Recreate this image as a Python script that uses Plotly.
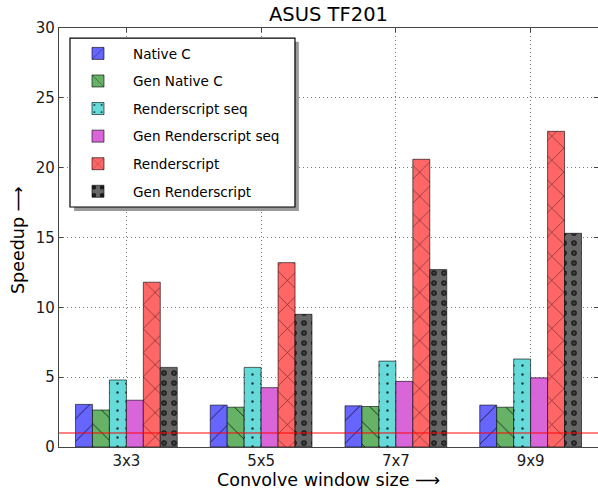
import plotly.graph_objects as go

categories = ["3x3", "5x5", "7x7", "9x9"]
series_names = ["Native C", "Gen Native C", "Renderscript seq", "Gen Renderscript seq", "Renderscript", "Gen Renderscript"]
native_c = [3.05, 3.0, 2.95, 3.0]
gen_native_c = [2.65, 2.85, 2.9, 2.85]
rs_seq = [4.8, 5.7, 6.15, 6.3]
gen_rs_seq = [3.35, 4.25, 4.7, 4.95]
rs = [11.8, 13.2, 20.6, 22.6]
gen_rs = [5.7, 9.5, 12.7, 15.3]
baseline = 1.0
y_ticks = [0, 5, 10, 15, 20, 25, 30]

values = [native_c, gen_native_c, rs_seq, gen_rs_seq, rs, gen_rs]
colors = ["#6666ff", "#66b266", "#66d9d9", "#d966d9", "#ff6666", "#666666"]
patterns = [
    dict(shape="/", size=16, solidity=0.06),
    dict(shape="\\", size=16, solidity=0.06),
    dict(shape=".", size=9, solidity=0.06),
    dict(shape=""),
    dict(shape="x", size=17, solidity=0.06),
    dict(shape=".", size=10, solidity=0.25),
]

fig = go.Figure()
for i, (name, vals) in enumerate(zip(series_names, values)):
    pat = dict(patterns[i])
    if pat.get("shape"):
        pat.update(fgcolor="rgba(0,0,0,0.75)", fillmode="replace", bgcolor=colors[i])
    fig.add_trace(go.Bar(
        x=categories, y=vals, name=name,
        offsetgroup=str(i), legendgroup=str(i),
        marker=dict(color=colors[i], line=dict(color="rgba(0,0,0,0.6)", width=1), pattern=pat),
    ))
    if i == 5:
        # inner lighter dots so the circles look hollow
        fig.add_trace(go.Bar(
            x=categories, y=vals, name=name, showlegend=False,
            offsetgroup=str(i), legendgroup=str(i), hoverinfo="skip",
            marker=dict(color="rgba(0,0,0,0)", line=dict(width=0),
                        pattern=dict(shape=".", size=10, solidity=0.08, fgcolor="#666666", fillmode="overlay")),
        ))

fig.add_hline(y=baseline, line=dict(color="rgba(255,0,0,0.65)", width=1.5), layer="above")

# legend frame with drop shadow
fig.add_shape(type="rect", xref="paper", yref="paper", x0=0.028, x1=0.445, y0=0.563, y1=0.967,
              fillcolor="#9a9a9a", line=dict(width=0), layer="above")
fig.add_shape(type="rect", xref="paper", yref="paper", x0=0.0204, x1=0.4378, y0=0.5728, y1=0.976,
              fillcolor="white", line=dict(color="black", width=1.2), layer="above")

fig.add_annotation(text="Convolve window size ⟶", xref="paper", yref="paper", x=0.5, y=-0.079,
                   showarrow=False, xanchor="center", yanchor="middle",
                   font=dict(family="DejaVu Sans", size=17.5, color="black"))
fig.add_annotation(text="Speedup ⟶", xref="paper", yref="paper", x=-0.076, y=0.494, textangle=-90,
                   showarrow=False, xanchor="center", yanchor="middle",
                   font=dict(family="DejaVu Sans", size=17.5, color="black"))

axis_font = dict(family="DejaVu Sans", size=15, color="#1a1a1a")
fig.update_layout(
    width=598, height=491,
    margin=dict(l=59, r=0, t=28, b=44),
    paper_bgcolor="white", plot_bgcolor="white",
    barmode="group", bargap=0.245, bargroupgap=0,
    title=dict(text="ASUS TF201", xref="paper", x=0.5, xanchor="center", y=0.9715, yanchor="middle",
               font=dict(family="DejaVu Sans", size=19.5, color="black")),
    font=dict(family="DejaVu Sans", size=13, color="black"),
    legend=dict(x=0.0074, y=0.976, xanchor="left", yanchor="top",
                borderwidth=0, bgcolor="rgba(0,0,0,0)",
                font=dict(family="DejaVu Sans", size=13.6, color="black"),
                traceorder="grouped", tracegroupgap=6.9, itemwidth=60),
    xaxis=dict(range=[-0.5, 3.5], showline=True, linecolor="#444", linewidth=1.2, mirror="ticks",
               ticks="inside", ticklen=4, tickcolor="#444",
               showgrid=True, gridcolor="#777", griddash="1px,3px", gridwidth=1,
               tickfont=axis_font),
    yaxis=dict(range=[0, 30], tickvals=y_ticks, showline=True, linecolor="#444", linewidth=1.2, mirror="ticks",
               ticks="inside", ticklen=4, tickcolor="#444",
               showgrid=True, gridcolor="#777", griddash="1px,3px", gridwidth=1, zeroline=False,
               tickfont=axis_font),
)

fig.write_html("out.html", config={"displayModeBar": False},
               post_script="document.body.style.margin='0px';")
